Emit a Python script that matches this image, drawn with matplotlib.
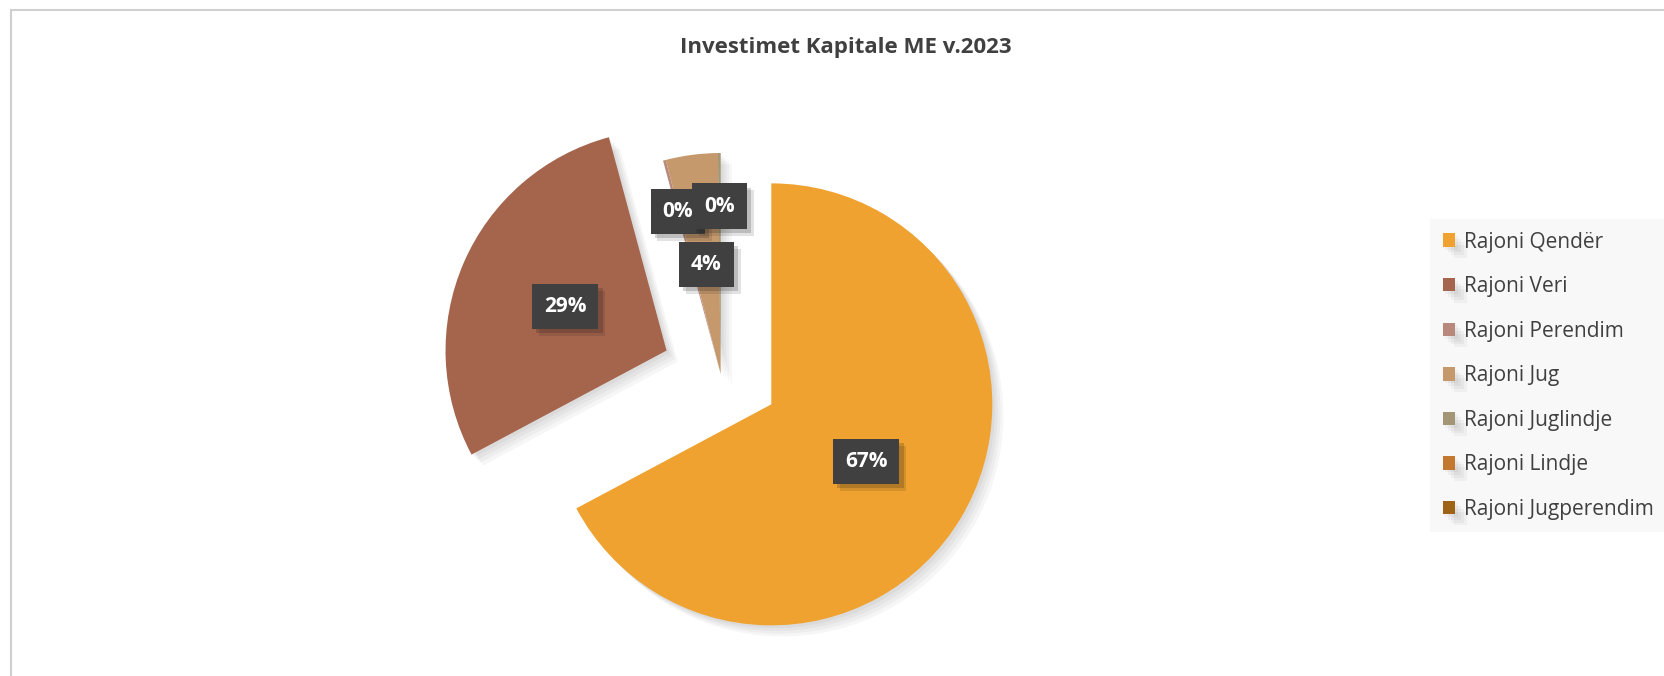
import matplotlib
matplotlib.use("Agg")
import matplotlib.pyplot as plt
import matplotlib.patheffects as pe
from matplotlib.lines import Line2D
import numpy as np

# --- Data ---
regions = ['Rajoni Qendër', 'Rajoni Veri', 'Rajoni Perendim', 'Rajoni Jug',
           'Rajoni Juglindje', 'Rajoni Lindje', 'Rajoni Jugperendim']
shares = [67.2, 28.6, 0.2, 3.8, 0.2, 0.0, 0.0]
colors = ['#EFA22F', '#A5644C', '#B8887D', '#C6996C', '#A39676', '#C4772E', '#9E6314']
title = 'Investimet Kapitale ME v.2023'

plt.rcParams['font.family'] = ['Open Sans', 'DejaVu Sans']
text_color = '#404040'

W, H = 1664, 676
fig = plt.figure(figsize=(W / 100, H / 100), dpi=100)

# pie axes: centre and radius in pixels
R_px, cx, cy = 221, 720.7, 374
lim = 1.6
half = lim * R_px
ax = fig.add_axes([(cx - half) / W, (H - cy - half) / H, 2 * half / W, 2 * half / H])

def pct(v):
    return '' if v == 0 else f'{v:.0f}%'

wedges, _, autotexts = ax.pie(
    shares, colors=colors, startangle=90, counterclock=False,
    explode=[0.267, 0.267, 0, 0, 0, 0, 0], autopct=pct, pctdistance=0.5,
    wedgeprops=dict(linewidth=0),
    textprops=dict(color='white', fontsize=15, fontweight='bold'))

ax.set_xlim(-lim, lim)
ax.set_ylim(-lim, lim)
ax.axis('off')

soft = [pe.SimplePatchShadow(offset=(o, -o), shadow_rgbFace='black', alpha=0.035)
        for o in (2, 4, 6, 8)] + [pe.Normal()]
for w in wedges:
    w.set_path_effects(soft)

for w, t, v in zip(wedges, autotexts, shares):
    if 0 < v < 1:
        ang = np.deg2rad((w.theta1 + w.theta2) / 2)
        x0, y0 = w.center
        t.set_position((x0 + 0.76 * w.r * np.cos(ang), y0 + 0.76 * w.r * np.sin(ang)))
    t.set_bbox(dict(boxstyle='square,pad=0.58', facecolor='#404040',
                    edgecolor='none', linewidth=0))
    t.get_bbox_patch().set_path_effects(
        [pe.SimplePatchShadow(offset=(3, -3), alpha=0.18),
         pe.SimplePatchShadow(offset=(5, -5), alpha=0.12), pe.Normal()])

# legend
leg = fig.legend(wedges, regions, loc='upper left',
                 bbox_to_anchor=(1430 / W, 1 - 219 / H), borderaxespad=0,
                 fontsize=15, frameon=True, fancybox=False,
                 handlelength=0.62, handleheight=0.62, handletextpad=0.4,
                 labelspacing=1.13, borderpad=0.6)
leg.get_frame().set_facecolor('#F7F7F7')
leg.get_frame().set_edgecolor('none')
for txt in leg.get_texts():
    txt.set_color(text_color)

fig.text(845.8 / W, 1 - 48 / H, title, ha='center', va='center',
         fontsize=16, fontweight='bold', color=text_color)

# chart border (only top/left visible)
fig.add_artist(Line2D([11 / W, 1], [1 - 10 / H, 1 - 10 / H], color='#D0D0D0', lw=1.5))
fig.add_artist(Line2D([11 / W, 11 / W], [0, 1 - 10 / H], color='#D0D0D0', lw=1.5))

fig.savefig('out.png', dpi=100)
